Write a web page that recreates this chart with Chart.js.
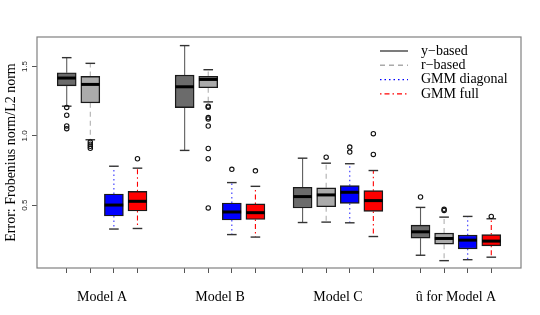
<!DOCTYPE html>
<html><head><meta charset="utf-8">
<script src="https://cdn.jsdelivr.net/npm/chart.js@4.4.1/dist/chart.umd.min.js"></script>
<style>html,body{margin:0;padding:0;background:#fff}</style>
</head><body>
<canvas id="c" width="540" height="315"></canvas>
<script>
// ---- data ----
const categories = ['Model A', 'Model B', 'Model C', '\u00fb for Model A'];
const seriesNames = ['y\u2212based', 'r\u2212based', 'GMM diagonal', 'GMM full'];
const groupStarts = [1, 6, 11, 16];
const groupCenters = [2.5, 7.5, 12.5, 17.5];
const yTickValues = [0.5, 1.0, 1.5];

// y-based
const yLo  = [1.214, 0.895, 0.375, 0.139];
const yQ1  = [1.361, 1.204, 0.480, 0.262];
const yMed = [1.417, 1.354, 0.562, 0.308];
const yQ3  = [1.455, 1.438, 0.629, 0.356];
const yHi  = [1.564, 1.651, 0.839, 0.484];
const yOut = [[1.205, 1.149, 1.072, 1.052], [], [], [0.559]];
// r-based
const rLo  = [0.972, 1.245, 0.378, 0.100];
const rQ1  = [1.238, 1.347, 0.489, 0.219];
const rMed = [1.371, 1.407, 0.574, 0.260];
const rQ3  = [1.429, 1.429, 0.625, 0.299];
const rHi  = [1.523, 1.477, 0.803, 0.414];
const rOut = [[0.955, 0.940, 0.925, 0.910], [1.214, 1.207, 1.132, 1.122, 1.071, 0.909, 0.835, 0.480], [0.846], [0.470, 0.462]];
// GMM diagonal
const dLo  = [0.328, 0.288, 0.373, 0.107];
const dQ1  = [0.422, 0.393, 0.513, 0.185];
const dMed = [0.501, 0.451, 0.593, 0.248];
const dQ3  = [0.581, 0.516, 0.641, 0.284];
const dHi  = [0.781, 0.663, 0.799, 0.419];
const dOut = [[], [0.759], [0.919, 0.883], []];
// GMM full
const fLo  = [0.332, 0.270, 0.274, 0.125];
const fQ1  = [0.458, 0.397, 0.455, 0.207];
const fMed = [0.528, 0.446, 0.533, 0.241];
const fQ3  = [0.600, 0.509, 0.605, 0.288];
const fHi  = [0.767, 0.636, 0.750, 0.402];
const fOut = [[0.835], [0.748], [1.016, 0.866], [0.419]];

// ---- styles ----
const series = [
  {name: seriesNames[0], lo: yLo, q1: yQ1, med: yMed, q3: yQ3, hi: yHi, out: yOut, fill: '#6b6b6b', whisk: '#5e5e5e', dash: [], legColor: '#444'},
  {name: seriesNames[1], lo: rLo, q1: rQ1, med: rMed, q3: rQ3, hi: rHi, out: rOut, fill: '#ababab', whisk: '#b0b0b0', dash: [5, 4], legColor: '#aaa'},
  {name: seriesNames[2], lo: dLo, q1: dQ1, med: dMed, q3: dQ3, hi: dHi, out: dOut, fill: '#0000ff', whisk: '#3333ff', dash: [1.5, 3], legColor: '#0000ff'},
  {name: seriesNames[3], lo: fLo, q1: fQ1, med: fMed, q3: fQ3, hi: fHi, out: fOut, fill: '#ff0000', whisk: '#ff0000', dash: [1.5, 3, 5, 3], legColor: '#ff0000'}
];

const boxPositions = [];
const datasets = [];
series.forEach((s, si) => {
  const pos = groupStarts.map(g => g + si);
  boxPositions.push(...pos);
  datasets.push({
    type: 'bar', label: s.name,
    data: pos.map((p, i) => ({x: p, y: [s.q1[i], s.q3[i]]})),
    backgroundColor: s.fill, borderColor: '#1a1a1a', borderWidth: 1.4,
    borderSkipped: false, barThickness: 19, grouped: false, order: 5
  });
  const wd = [];
  pos.forEach((p, i) => {
    wd.push({x: p, y: s.q3[i]}, {x: p, y: s.hi[i]}, {x: p, y: null},
            {x: p, y: s.q1[i]}, {x: p, y: s.lo[i]}, {x: p, y: null});
  });
  datasets.push({
    type: 'line', data: wd, borderColor: s.whisk, borderWidth: 1.1,
    borderDash: s.dash, pointRadius: 0, spanGaps: false, fill: false, order: 6
  });
  const caps = [];
  pos.forEach((p, i) => { caps.push({x: p, y: s.hi[i]}, {x: p, y: s.lo[i]}); });
  datasets.push({
    type: 'scatter', data: caps, pointStyle: 'line', pointRadius: 4.8,
    borderColor: '#333', borderWidth: 1.4, order: 3
  });
  datasets.push({
    type: 'scatter', data: pos.map((p, i) => ({x: p, y: s.med[i]})),
    pointStyle: 'line', pointRadius: 9.3, borderColor: '#000', borderWidth: 3, order: 2
  });
  const outs = [];
  pos.forEach((p, i) => { s.out[i].forEach(v => outs.push({x: p, y: v})); });
  datasets.push({
    type: 'scatter', data: outs, pointStyle: 'circle', pointRadius: 2.2,
    borderColor: '#111', backgroundColor: 'rgba(0,0,0,0)', borderWidth: 1.1, order: 1
  });
});
const xTicks = boxPositions.concat(groupCenters).sort((a, b) => a - b);

const framePlugin = {
  id: 'frame',
  afterDatasetsDraw(chart) {
    const {ctx, chartArea: a} = chart;
    ctx.save();
    ctx.strokeStyle = '#808080';
    ctx.lineWidth = 1.2;
    ctx.strokeRect(a.left, a.top, a.right - a.left, a.bottom - a.top);
    ctx.restore();
  }
};
const legendPlugin = {
  id: 'legendR',
  afterDraw(chart) {
    const ctx = chart.ctx;
    ctx.save();
    ctx.font = '14px "Liberation Serif"';
    ctx.textBaseline = 'middle';
    ctx.fillStyle = '#000';
    series.forEach((s, i) => {
      const y = 51 + i * 14.3;
      ctx.beginPath();
      ctx.setLineDash(s.dash);
      ctx.strokeStyle = s.legColor;
      ctx.lineWidth = 1.4;
      ctx.moveTo(380, y); ctx.lineTo(408, y);
      ctx.stroke();
      ctx.setLineDash([]);
      ctx.fillText(s.name, 421, y);
    });
    ctx.restore();
  }
};

new Chart(document.getElementById('c'), {
  type: 'scatter',
  data: {datasets},
  plugins: [framePlugin, legendPlugin],
  options: {
    responsive: false, animation: false, events: [], devicePixelRatio: 1,
    layout: {padding: {left: 0, right: 19, top: 37, bottom: 0}},
    plugins: {legend: {display: false}, tooltip: {enabled: false}},
    scales: {
      x: {
        type: 'linear', min: -0.26, max: 20.26, offset: false,
        afterBuildTicks: sc => { sc.ticks = xTicks.map(v => ({value: v})); },
        afterFit: sc => { sc.height = 47; },
        border: {display: false},
        grid: {
          drawOnChartArea: false, offset: false, tickLength: 5, tickWidth: 1,
          tickColor: c => (c.tick && groupCenters.includes(c.tick.value)) ? 'rgba(0,0,0,0)' : '#555'
        },
        ticks: {
          autoSkip: false, maxRotation: 0, minRotation: 0, padding: 16, color: '#000',
          font: {family: 'Liberation Serif', size: 14},
          callback: v => { const g = groupCenters.indexOf(v); return g >= 0 ? categories[g] : ''; }
        }
      },
      y: {
        type: 'linear', min: 0.047, max: 1.713,
        afterBuildTicks: sc => { sc.ticks = yTickValues.map(v => ({value: v})); },
        afterFit: sc => { sc.width = 37; },
        border: {display: false},
        grid: {drawOnChartArea: false, tickLength: 5, tickWidth: 1, tickColor: '#555'},
        ticks: {
          minRotation: 90, maxRotation: 90, crossAlign: 'center', padding: 2, color: '#222',
          font: {family: 'Liberation Sans', size: 8},
          callback: v => Number(v).toFixed(1)
        },
        title: {
          display: true, text: 'Error: Frobenius norm/L2 norm', color: '#000',
          font: {family: 'Liberation Serif', size: 14}, padding: {top: 3, bottom: 0}
        }
      }
    }
  }
});
</script>
</body></html>
